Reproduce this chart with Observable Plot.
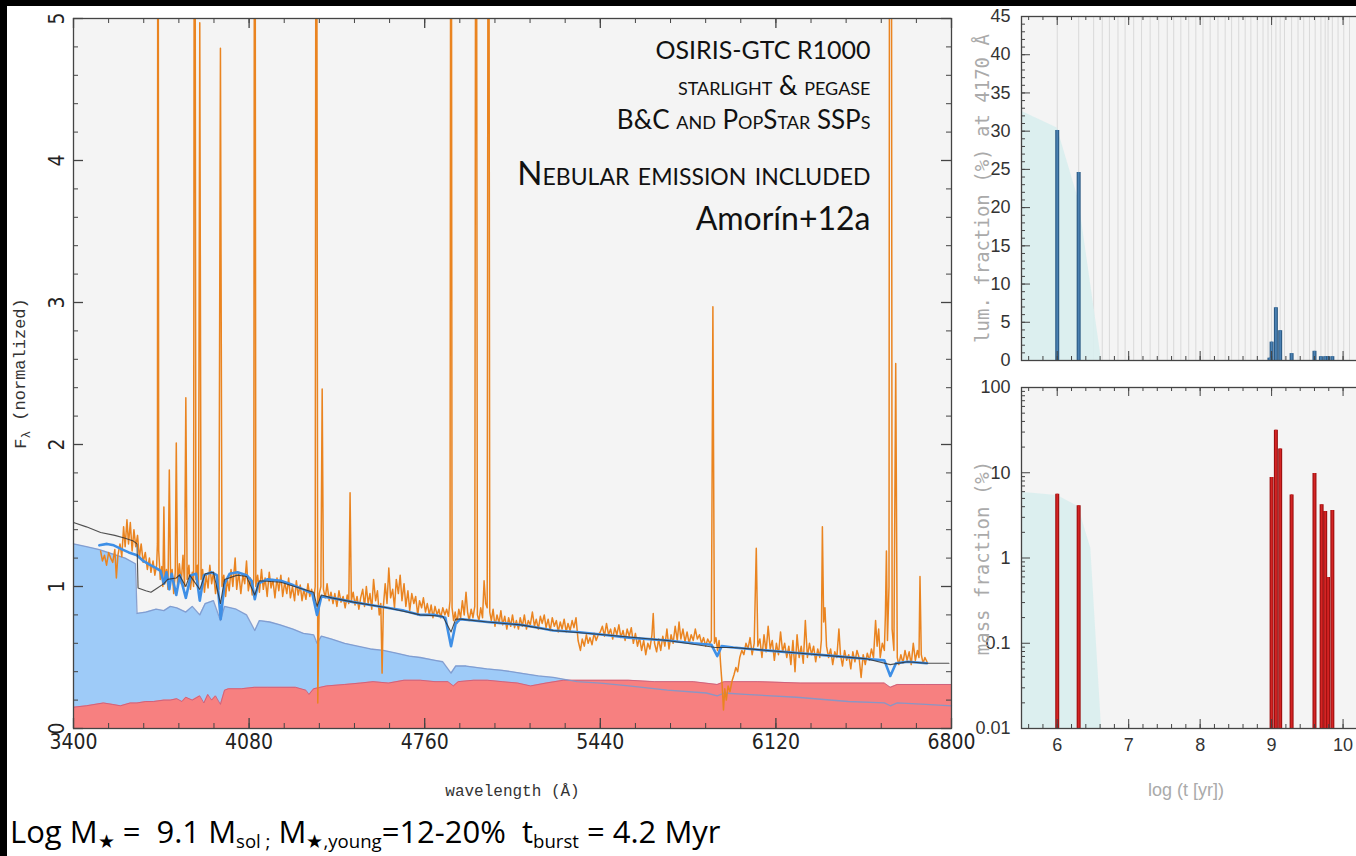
<!DOCTYPE html>
<html><head><meta charset="utf-8">
<script src="https://cdn.jsdelivr.net/npm/d3@7"></script>
<script src="https://cdn.jsdelivr.net/npm/@observablehq/plot@0.6"></script>
<style>
html,body{margin:0;padding:0;background:#fff;overflow:hidden;}
#root{position:relative;width:1356px;height:856px;overflow:hidden;background:#fff;}
#root svg{position:absolute;overflow:visible;}
.strip{position:absolute;background:#000;}
#caption{position:absolute;left:10px;top:816px;font-family:"Open Sans",sans-serif;font-size:31px;color:#000;white-space:pre;line-height:1;}
#caption sub{font-size:0.6em;vertical-align:-0.25em;}
</style></head><body><div id="root"></div>
<script>
// ---------- DATA ----------
// observed spectrum (wavelength Å, normalized flux)
const observed = [
[3505,1.25],[3512,1.18],[3520,1.22],[3528,1.15],[3536,1.24],[3544,1.20],[3552,1.17],[3560,1.26],[3566,1.06],[3572,1.22],[3580,1.30],[3587,1.21],[3594,1.42],[3600,1.28],[3607,1.47],[3613,1.30],[3620,1.45],[3627,1.25],[3634,1.40],[3641,1.28],[3648,1.36],[3655,1.20],[3662,1.30],[3670,1.17],[3678,1.24],[3686,1.12],[3694,1.20],[3700,1.10],[3708,1.18],[3715,1.08],[3722,1.15],
[3725,1.30],[3727,9],[3730,1.25],[3736,1.05],[3742,1.14],[3746,1.00],[3750,1.56],[3754,1.02],[3760,1.12],[3766,0.98],[3771,1.82],[3776,1.05],[3782,1.12],[3788,0.95],[3794,1.10],[3798,2.01],[3803,1.00],[3810,1.16],[3817,1.02],[3824,1.22],[3830,1.00],[3835,2.33],[3840,1.05],[3847,1.15],[3853,0.98],[3860,1.10],[3865,1.00],[3869,9],[3874,1.05],[3880,1.15],[3884,1.00],[3889,4.97],[3894,1.05],[3900,1.12],[3907,0.96],[3914,1.08],[3921,0.99],[3928,1.15],[3935,1.02],[3942,1.10],[3950,0.95],[3957,1.05],[3963,0.98],[3969,4.79],[3975,1.00],[3982,1.08],[3989,0.93],[3996,1.05],[4003,0.97],[4010,1.12],[4017,1.00],[4026,1.20],[4032,0.98],[4040,1.10],[4048,0.95],[4056,1.08],[4063,1.02],[4070,1.18],[4077,0.97],[4085,1.06],[4092,0.94],[4098,1.05],[4102,9],[4106,1.00],[4113,1.08],[4120,0.96],[4128,1.12],[4135,0.98],[4142,1.06],[4150,0.93],[4158,1.10],[4165,0.99],[4172,1.05],[4180,0.92],[4188,1.06],[4195,0.97],[4203,1.08],[4210,0.93],[4218,1.03],[4226,0.95],[4233,1.06],[4240,0.92],[4248,1.00],[4256,0.90],[4263,1.04],[4270,0.94],[4278,1.01],[4285,0.90],[4292,0.98],[4300,0.91],[4308,1.02],[4315,0.93],[4322,0.98],[4330,0.90],[4336,1.00],[4340,9],[4346,0.18],[4352,0.95],[4358,1.00],[4363,2.39],[4368,0.98],[4375,0.92],[4382,1.02],[4390,0.90],[4397,0.96],[4405,0.88],[4412,0.95],[4420,0.86],[4428,0.97],[4436,0.89],[4444,0.93],[4452,0.85],[4460,0.94],[4466,0.88],[4471,1.66],[4476,0.90],[4483,0.96],[4490,0.87],[4498,0.93],[4505,0.84],[4512,0.92],[4520,0.98],[4527,0.86],[4534,1.00],[4541,0.88],[4548,0.95],[4555,0.84],[4562,1.05],[4570,0.90],[4577,0.97],[4584,0.80],[4590,0.88],[4595,0.39],[4600,0.86],[4607,1.02],[4614,0.88],[4621,1.13],[4628,0.92],[4636,0.98],[4643,0.85],[4650,1.05],[4658,0.95],[4665,1.08],[4672,0.90],[4680,1.02],[4687,0.86],[4695,0.97],[4702,0.83],[4710,0.95],[4718,0.88],[4725,0.93],[4733,0.80],[4740,0.90],[4748,0.85],[4755,0.92],[4763,0.82],[4770,0.88],[4778,0.80],[4785,0.87],[4792,0.78],[4800,0.86],[4808,0.80],[4815,0.84],[4822,0.78],[4830,0.85],[4838,0.80],[4845,0.84],[4852,0.79],[4858,0.90],[4862,9],[4866,0.85],[4872,0.76],[4878,0.82],[4885,0.74],[4892,0.84],[4899,0.78],[4906,0.90],[4913,0.80],[4920,0.96],[4926,0.82],[4932,0.76],[4940,0.84],[4947,0.78],[4954,0.86],[4959,9],[4964,0.80],[4970,0.76],[4977,0.85],[4984,0.78],[4990,1.04],[4996,0.88],[5002,0.85],[5007,9],[5012,0.82],[5018,0.76],[5025,0.84],[5032,0.72],[5040,0.80],[5048,0.74],[5055,0.83],[5062,0.73],[5070,0.79],[5078,0.70],[5085,0.78],[5093,0.72],[5100,0.80],[5108,0.71],[5115,0.76],[5123,0.70],[5130,0.78],[5138,0.72],[5146,0.80],[5154,0.70],[5161,0.76],[5169,0.73],[5177,0.82],[5185,0.72],[5192,0.77],[5200,0.70],[5208,0.79],[5215,0.74],[5223,0.80],[5230,0.71],[5238,0.77],[5246,0.69],[5254,0.78],[5262,0.72],[5270,0.76],[5277,0.68],[5285,0.75],[5292,0.70],[5300,0.77],[5308,0.68],[5315,0.74],[5323,0.69],[5331,0.76],[5338,0.71],[5346,0.78],[5354,0.62],[5363,0.55],[5370,0.63],[5378,0.58],[5386,0.66],[5393,0.60],[5400,0.64],[5408,0.59],[5416,0.67],[5424,0.62],[5432,0.66],
[5440,0.68],[5448,0.72],[5456,0.65],[5464,0.74],[5472,0.66],[5480,0.70],[5488,0.63],[5496,0.71],[5504,0.66],[5512,0.73],[5520,0.64],[5528,0.69],[5536,0.62],[5544,0.70],[5552,0.65],[5560,0.71],[5568,0.60],[5576,0.67],[5584,0.58],[5592,0.64],[5600,0.55],[5608,0.62],[5616,0.52],[5624,0.60],[5632,0.56],[5640,0.66],[5645,0.81],[5650,0.60],[5658,0.54],[5666,0.63],[5674,0.55],[5682,0.65],[5690,0.58],[5698,0.70],[5706,0.56],[5714,0.66],[5722,0.60],[5730,0.72],[5738,0.62],[5745,0.75],[5752,0.63],[5760,0.70],[5768,0.61],[5776,0.68],[5784,0.60],[5792,0.66],[5800,0.62],[5808,0.70],[5816,0.63],[5824,0.66],[5832,0.60],[5840,0.64],[5848,0.58],[5856,0.63],[5864,0.60],[5870,0.62],[5876,2.97],[5882,0.60],[5888,0.64],[5894,0.55],[5900,0.62],[5906,0.45],[5912,0.30],[5917,0.13],[5922,0.28],[5928,0.20],[5935,0.30],[5942,0.26],[5951,0.34],[5958,0.38],[5965,0.43],[5972,0.40],[5980,0.50],[5988,0.55],[5996,0.52],[6004,0.60],[6012,0.56],[6020,0.64],[6028,0.52],[6036,0.60],[6044,1.27],[6050,0.58],[6058,0.63],[6066,0.50],[6074,0.66],[6082,0.54],[6090,0.72],[6098,0.56],[6106,0.62],[6114,0.48],[6122,0.60],[6130,0.52],[6138,0.68],[6146,0.54],[6154,0.60],[6162,0.50],[6170,0.58],[6178,0.45],[6186,0.62],[6194,0.40],[6202,0.66],[6210,0.50],[6218,0.58],[6226,0.46],[6234,0.76],[6242,0.50],[6250,0.60],[6258,0.52],[6266,0.58],[6274,0.47],[6282,0.56],[6290,0.50],[6296,0.62],[6300,1.42],[6305,0.75],[6310,0.85],[6316,0.58],[6324,0.50],[6332,0.56],[6340,0.45],[6348,0.54],[6356,0.50],[6364,0.70],[6370,0.52],[6378,0.44],[6386,0.55],[6394,0.48],[6402,0.52],[6410,0.42],[6418,0.54],[6426,0.47],[6434,0.55],[6442,0.50],[6450,0.36],[6458,0.52],[6466,0.45],[6474,0.53],[6482,0.48],[6490,0.56],[6498,0.50],[6506,0.76],[6512,0.58],[6518,0.70],[6524,0.50],[6532,0.60],[6540,0.55],[6544,0.80],[6548,1.25],[6552,0.62],[6558,1.00],[6561,9],[6566,9],[6570,0.70],[6577,0.55],[6584,2.57],[6590,0.50],[6596,0.45],[6604,0.52],[6612,0.46],[6620,0.55],[6628,0.48],[6636,0.54],[6644,0.45],[6652,0.60],[6660,0.48],[6668,0.55],[6674,0.50],[6678,1.07],[6683,0.52],[6690,0.46],[6697,0.50],[6705,0.47]
];
// best-fit synthetic spectrum (blue)
const synthetic = [
[3500,1.29],[3530,1.30],[3556,1.29],[3590,1.26],[3614,1.24],[3646,1.22],[3670,1.18],[3698,1.15],[3720,1.13],[3737,1.11],[3750,1.02],[3760,1.10],[3771,0.98],[3780,1.09],[3798,0.94],[3812,1.08],[3835,0.92],[3855,1.08],[3875,1.09],[3889,0.90],[3905,1.08],[3935,1.10],[3955,1.08],[3970,0.77],[3985,1.02],[4005,1.09],[4035,1.10],[4070,1.08],[4090,1.04],[4102,0.91],[4115,1.02],[4150,1.05],[4203,1.04],[4250,1.01],[4290,0.98],[4325,0.95],[4343,0.80],[4360,0.93],[4400,0.92],[4484,0.89],[4550,0.87],[4615,0.85],[4680,0.83],[4743,0.80],[4800,0.80],[4840,0.78],[4862,0.58],[4880,0.74],[4898,0.77],[4950,0.76],[5003,0.75],[5070,0.74],[5131,0.73],[5200,0.71],[5258,0.69],[5350,0.68],[5452,0.66],[5550,0.64],[5700,0.62],[5800,0.60],[5870,0.59],[5893,0.51],[5910,0.58],[5955,0.57],[6080,0.55],[6215,0.53],[6350,0.51],[6474,0.49],[6540,0.48],[6563,0.37],[6585,0.46],[6630,0.47],[6705,0.46]
];
// second model spectrum (thin dark line)
const model2 = [
[3400,1.45],[3450,1.42],[3505,1.38],[3560,1.36],[3600,1.34],[3632,1.32],[3646,1.30],[3650,0.99],[3680,0.97],[3700,0.96],[3725,0.99],[3750,1.02],[3765,1.05],[3798,1.06],[3810,1.08],[3835,1.00],[3850,1.08],[3889,0.98],[3910,1.09],[3942,1.10],[3969,0.88],[3985,1.05],[4035,1.08],[4070,1.07],[4102,0.94],[4120,1.04],[4203,1.03],[4290,0.98],[4330,0.96],[4343,0.86],[4360,0.94],[4400,0.92],[4484,0.89],[4615,0.85],[4743,0.80],[4830,0.79],[4862,0.68],[4880,0.77],[4898,0.77],[5003,0.75],[5131,0.73],[5258,0.69],[5452,0.66],[5700,0.62],[5886,0.57],[5955,0.57],[6215,0.53],[6474,0.49],[6563,0.45],[6630,0.47],[6700,0.46],[6790,0.46]
];
// young population component (light blue area)
const youngComponent = [
[3400,1.30],[3450,1.28],[3500,1.26],[3550,1.23],[3600,1.20],[3640,1.16],[3646,0.81],[3680,0.82],[3720,0.84],[3750,0.83],[3775,0.86],[3800,0.85],[3835,0.82],[3860,0.86],[3889,0.80],[3910,0.88],[3942,0.90],[3969,0.76],[3985,0.86],[4030,0.84],[4070,0.80],[4102,0.69],[4120,0.76],[4160,0.75],[4200,0.73],[4250,0.70],[4290,0.67],[4330,0.66],[4343,0.60],[4360,0.65],[4400,0.63],[4450,0.60],[4500,0.58],[4550,0.56],[4600,0.55],[4650,0.53],[4700,0.51],[4743,0.50],[4800,0.48],[4830,0.47],[4862,0.39],[4880,0.44],[4920,0.44],[5000,0.42],[5060,0.41],[5130,0.39],[5200,0.37],[5258,0.36],[5350,0.33],[5440,0.32],[5550,0.30],[5700,0.27],[5850,0.25],[5893,0.23],[5920,0.25],[6000,0.24],[6200,0.22],[6400,0.19],[6540,0.18],[6563,0.16],[6590,0.18],[6700,0.17],[6800,0.16]
];
// old population component (red area)
const oldComponent = [
[3400,0.15],[3450,0.16],[3516,0.18],[3550,0.17],[3582,0.16],[3620,0.18],[3646,0.18],[3680,0.19],[3710,0.19],[3750,0.20],[3775,0.20],[3800,0.21],[3820,0.19],[3835,0.22],[3860,0.20],[3889,0.23],[3905,0.18],[3920,0.24],[3935,0.20],[3950,0.23],[3969,0.17],[3985,0.27],[4000,0.28],[4050,0.28],[4100,0.29],[4150,0.29],[4200,0.29],[4260,0.29],[4300,0.27],[4312,0.24],[4330,0.28],[4380,0.30],[4450,0.31],[4511,0.32],[4560,0.33],[4620,0.32],[4680,0.34],[4743,0.34],[4800,0.33],[4850,0.33],[4871,0.30],[4890,0.33],[4950,0.34],[5003,0.34],[5060,0.33],[5120,0.32],[5170,0.30],[5230,0.32],[5297,0.34],[5350,0.34],[5440,0.34],[5550,0.34],[5650,0.33],[5800,0.33],[5893,0.31],[5920,0.33],[6050,0.33],[6215,0.32],[6400,0.32],[6540,0.32],[6563,0.29],[6590,0.31],[6700,0.31],[6800,0.31]
];
const wavelengthTicks = [3400,4080,4760,5440,6120,6800];
const wavelengthTickLabels = ["3400","4080","4760","5440","6120","6800"];
const fluxTicks = [0,1,2,3,4,5];
const fluxTickLabels = ["0","1","2","3","4","5"];

// star formation history
const sspAges = [6.00,6.30,6.51,6.63,6.73,6.85,6.95,7.07,7.18,7.30,7.42,7.54,7.63,7.73,7.84,7.94,8.04,8.14,8.25,8.35,8.44,8.54,8.63,8.71,8.80,8.88,8.95,9.00,9.06,9.12,9.18,9.28,9.37,9.45,9.53,9.61,9.69,9.75,9.79,9.85,9.93,10.01,10.09];
const lumFraction = [[6.0,30.1],[6.3,24.6],[8.97,0.3],[9.0,2.4],[9.06,6.9],[9.12,3.9],[9.28,0.9],[9.6,1.2],[9.69,0.5],[9.75,0.5],[9.79,0.5],[9.85,0.5]];
const lumSmooth = [[5.5,32.6],[6.0,30.4],[6.3,21.0],[6.62,0]];
const massFraction = [[6.0,5.6],[6.3,4.1],[9.0,8.8],[9.06,31.6],[9.12,19],[9.28,5.5],[9.6,9.8],[9.7,4.2],[9.75,3.5],[9.79,0.59],[9.85,3.6]];
const massSmooth = [[5.5,5.9],[6.0,5.4],[6.3,4.0],[6.38,2.3],[6.47,1.3],[6.62,0.01]];
const ageTicks = [6,7,8,9,10];
const ageTickLabels = ["6","7","8","9","10"];
const lumTicks = [0,5,10,15,20,25,30,35,40,45];
const lumTickLabels = ["0","5","10","15","20","25","30","35","40","45"];
const massTicks = [0.01,0.1,1,10,100];
const massTickLabels = ["0.01","0.1","1","10","100"];

const annotations = ["OSIRIS-GTC R1000","starlight & pegase","B&C and PopStar SSPs","Nebular emission included","Amorín+12a"];

// ---------- DRAW ----------
(function () {
const root = document.getElementById("root");
const tickFont = '"Liberation Sans Narrow","DejaVu Sans Condensed","Liberation Sans",sans-serif';
const monoFont = '"Liberation Mono","DejaVu Sans Mono",monospace';
const axisCol = "#444";
const annFont = "Lato, 'Open Sans', sans-serif";

const mW = 1000, mH = 810, mL = 73, mR = 49, mT = 18, mB = 82;
const fW = mW - mL - mR, fH = mH - mT - mB;
const wMinor = d3.range(3400, 6801, 136);
const fMinor = d3.range(0, 5.01, 0.2);
const ann = (i, dy, size, sc) => Plot.text([annotations[i]], {frameAnchor: "top-right", dx: -81, dy, textAnchor: "end", lineAnchor: "bottom", fontSize: size, fontVariant: sc ? "small-caps" : "normal", fontFamily: annFont, fill: "#111"});
const main = Plot.plot({
  width: mW, height: mH, marginLeft: mL, marginRight: mR, marginTop: mT, marginBottom: mB,
  x: {domain: [3400, 6800], axis: null},
  y: {domain: [0, 5], axis: null},
  style: {background: "transparent", overflow: "visible"},
  marks: [
    Plot.frame({fill: "#f4f4f4", stroke: null}),
    Plot.areaY(youngComponent, {x: d => d[0], y: d => d[1], fill: "#9ecbf8"}),
    Plot.areaY(oldComponent, {x: d => d[0], y: d => d[1], fill: "#f78080"}),
    Plot.line(oldComponent, {x: d => d[0], y: d => d[1], stroke: "#c45a7a", strokeWidth: 1, strokeOpacity: 0.8}),
    Plot.line(youngComponent, {x: d => d[0], y: d => d[1], stroke: "#7d98cc", strokeWidth: 1.3, strokeOpacity: 0.9}),
    Plot.line(observed, {x: d => d[0], y: d => d[1], stroke: "#ea8420", strokeWidth: 1.5, clip: true}),
    Plot.line(synthetic, {x: d => d[0], y: d => d[1], stroke: "#3e8fe6", strokeWidth: 2.6}),
    Plot.line(model2, {x: d => d[0], y: d => d[1], stroke: "#333", strokeWidth: 1.1, strokeOpacity: 0.85}),
    Plot.tickX(wMinor, {x: d => d, insetTop: fH - 5, stroke: axisCol}),
    Plot.tickX(wMinor, {x: d => d, insetBottom: fH - 5, stroke: axisCol}),
    Plot.tickX(wavelengthTicks, {x: d => d, insetTop: fH - 10, stroke: axisCol, strokeWidth: 1.3}),
    Plot.tickX(wavelengthTicks, {x: d => d, insetBottom: fH - 10, stroke: axisCol, strokeWidth: 1.3}),
    Plot.tickY(fMinor, {y: d => d, insetRight: fW - 5, stroke: axisCol}),
    Plot.tickY(fMinor, {y: d => d, insetLeft: fW - 5, stroke: axisCol}),
    Plot.tickY(fluxTicks, {y: d => d, insetRight: fW - 10, stroke: axisCol, strokeWidth: 1.3}),
    Plot.tickY(fluxTicks, {y: d => d, insetLeft: fW - 10, stroke: axisCol, strokeWidth: 1.3}),
    Plot.frame({stroke: axisCol, strokeWidth: 1.3}),
    Plot.text(wavelengthTicks, {x: d => d, text: (d, i) => wavelengthTickLabels[i], frameAnchor: "bottom", dy: 20, fontSize: 21, fontFamily: tickFont, fill: "#222"}),
    Plot.text(fluxTicks, {y: d => d, text: (d, i) => fluxTickLabels[i], frameAnchor: "left", textAnchor: "middle", dx: -16, rotate: -90, fontSize: 21, fontFamily: tickFont, fill: "#222"}),
    Plot.text(["wavelength (Å)"], {frameAnchor: "bottom", dy: 67, fontSize: 16, fontFamily: monoFont, fill: "#333"}),
    Plot.text(["Fλ (normalized)"], {frameAnchor: "left", textAnchor: "middle", dx: -53, rotate: -90, fontSize: 17, fontFamily: monoFont, fill: "#333"}),
    ann(0, 40, 25, false),
    ann(1, 76, 26, true),
    ann(2, 110, 26, true),
    ann(3, 166, 33, true),
    ann(4, 211, 32, false)
  ]
});
main.style.left = "0px"; main.style.top = "0px";
root.appendChild(main);

main.querySelectorAll("text").forEach(t => {
  if (t.textContent === "Fλ (normalized)") {
    t.textContent = "";
    const ns = "http://www.w3.org/2000/svg";
    const a = document.createElementNS(ns, "tspan"); a.textContent = "F";
    const b = document.createElementNS(ns, "tspan"); b.textContent = "λ"; b.setAttribute("dy", "0.3em"); b.setAttribute("font-size", "0.75em");
    const c = document.createElementNS(ns, "tspan"); c.textContent = " (normalized)"; c.setAttribute("dy", "-0.3em");
    t.append(a, b, c);
  }
});

const rL = 61, rR = 20, rW = 424, afW = rW - rL - rR;
const ageMinor = d3.range(5.6, 10.31, 0.2);
const labCol = "#aaa";
const rFont = '"Liberation Sans",Arial,sans-serif';

const tH = 372, tT = 16, tB = 12, tfH = tH - tT - tB;
const lum = Plot.plot({
  width: rW, height: tH, marginLeft: rL, marginRight: rR, marginTop: tT, marginBottom: tB,
  x: {domain: [5.5, 10.3], axis: null},
  y: {domain: [0, 45], axis: null},
  style: {background: "transparent", overflow: "visible"},
  marks: [
    Plot.frame({fill: "#f4f4f4", stroke: null}),
    Plot.ruleX(sspAges, {x: d => d, stroke: "#d9d9d9", strokeWidth: 1}),
    Plot.areaY(lumSmooth, {x: d => d[0], y: d => d[1], fill: "#d9eeee", fillOpacity: 0.9}),
    Plot.ruleX(lumFraction, {x: d => d[0], y1: 0, y2: d => d[1], stroke: "#2b5a84", strokeWidth: 4}),
    Plot.ruleX(lumFraction, {x: d => d[0], y1: 0, y2: d => d[1], stroke: "#4a80b2", strokeWidth: 1.8}),
    Plot.tickX(ageMinor, {x: d => d, insetTop: tfH - 4, stroke: axisCol}),
    Plot.tickX(ageMinor, {x: d => d, insetBottom: tfH - 4, stroke: axisCol}),
    Plot.tickX(ageTicks, {x: d => d, insetTop: tfH - 9, stroke: axisCol}),
    Plot.tickX(ageTicks, {x: d => d, insetBottom: tfH - 9, stroke: axisCol}),
    Plot.tickY(d3.range(0, 45.1, 1), {y: d => d, insetRight: afW - 4, stroke: axisCol}),
    Plot.tickY(lumTicks, {y: d => d, insetRight: afW - 9, stroke: axisCol}),
    Plot.frame({stroke: axisCol, strokeWidth: 1.3}),
    Plot.text(lumTicks, {y: d => d, text: (d, i) => lumTickLabels[i], frameAnchor: "left", dx: -11, textAnchor: "end", fontSize: 18, fontFamily: rFont, fill: "#333"}),
    Plot.text(["lum. fraction (%) at 4170 Å"], {frameAnchor: "left", textAnchor: "middle", dx: -39, rotate: -90, fontSize: 19, fontFamily: '"DejaVu Sans Mono",monospace', fill: labCol})
  ]
});
lum.style.left = "960px"; lum.style.top = "0px";
root.appendChild(lum);

const bH = 476, bT = 7, bB = 128, bfH = bH - bT - bB;
const massMinor = [];
[0.01, 0.1, 1, 10].forEach(p => { for (let k = 2; k <= 9; k++) massMinor.push(p * k); });
const mass = Plot.plot({
  width: rW, height: bH, marginLeft: rL, marginRight: rR, marginTop: bT, marginBottom: bB,
  x: {domain: [5.5, 10.3], axis: null},
  y: {type: "log", domain: [0.01, 100], axis: null},
  style: {background: "transparent", overflow: "visible"},
  marks: [
    Plot.frame({fill: "#f4f4f4", stroke: null}),
    Plot.areaY(massSmooth, {x: d => d[0], y1: 0.01, y2: d => d[1], fill: "#d9eeee", fillOpacity: 0.9}),
    Plot.ruleX(massFraction, {x: d => d[0], y1: 0.01, y2: d => d[1], stroke: "#9c1010", strokeWidth: 4}),
    Plot.ruleX(massFraction, {x: d => d[0], y1: 0.01, y2: d => d[1], stroke: "#d42424", strokeWidth: 1.8}),
    Plot.tickX(ageMinor, {x: d => d, insetTop: bfH - 4, stroke: axisCol}),
    Plot.tickX(ageMinor, {x: d => d, insetBottom: bfH - 4, stroke: axisCol}),
    Plot.tickX(ageTicks, {x: d => d, insetTop: bfH - 9, stroke: axisCol}),
    Plot.tickX(ageTicks, {x: d => d, insetBottom: bfH - 9, stroke: axisCol}),
    Plot.tickY(massMinor, {y: d => d, insetRight: afW - 4, stroke: axisCol}),
    Plot.tickY(massTicks, {y: d => d, insetRight: afW - 9, stroke: axisCol}),
    Plot.frame({stroke: axisCol, strokeWidth: 1.3}),
    Plot.text(massTicks, {y: d => d, text: (d, i) => massTickLabels[i], frameAnchor: "left", dx: -11, textAnchor: "end", fontSize: 18, fontFamily: rFont, fill: "#333"}),
    Plot.text(ageTicks, {x: d => d, text: (d, i) => ageTickLabels[i], frameAnchor: "bottom", dy: 22, fontSize: 18, fontFamily: rFont, fill: "#333"}),
    Plot.text(["mass fraction (%)"], {frameAnchor: "left", textAnchor: "middle", dx: -39, rotate: -90, fontSize: 19, fontFamily: '"DejaVu Sans Mono",monospace', fill: labCol}),
    Plot.text(["log (t [yr])"], {frameAnchor: "bottom", dx: -7, dy: 67, fontSize: 18, fontFamily: rFont, fill: labCol})
  ]
});
mass.style.left = "960px"; mass.style.top = "380px";
root.appendChild(mass);

const topStrip = document.createElement("div"); topStrip.className = "strip";
Object.assign(topStrip.style, {left: "0px", top: "0px", width: "1356px", height: "6px"});
const leftStrip = document.createElement("div"); leftStrip.className = "strip";
Object.assign(leftStrip.style, {left: "0px", top: "0px", width: "7px", height: "856px"});
root.append(topStrip, leftStrip);

const cap = document.createElement("div"); cap.id = "caption";
cap.innerHTML = 'Log M<sub>★</sub> =  9.1 M<sub>sol ;</sub> M<sub>★,young</sub>=12-20%  t<sub>burst</sub> = 4.2 Myr';
root.appendChild(cap);
})();
</script></body></html>
